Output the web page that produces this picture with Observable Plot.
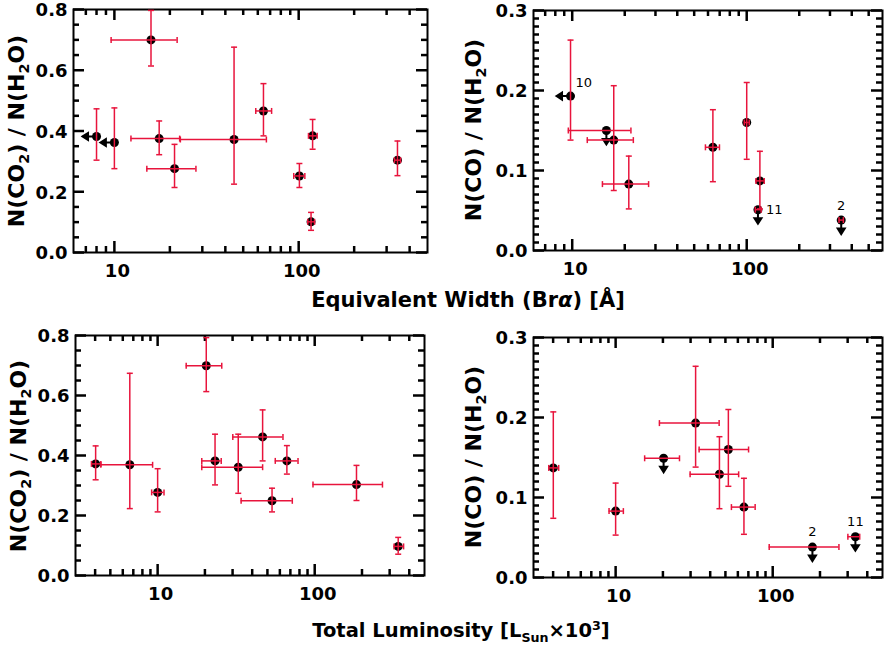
<!DOCTYPE html>
<html><head><meta charset="utf-8">
<script src="https://cdn.jsdelivr.net/npm/d3@7"></script>
<script src="https://cdn.jsdelivr.net/npm/@observablehq/plot@0.6"></script>
<style>
body{margin:0;background:#fff;}
#root{position:relative;width:890px;height:648px;overflow:hidden;font-family:"DejaVu Sans",sans-serif;color:#000;background:#fff;}
.panel{position:absolute;max-width:none !important;}
.ytitle{position:absolute;transform:translate(-50%,-50%) rotate(-90deg);white-space:nowrap;font-weight:bold;font-size:22px;line-height:1;}
.xtitle{position:absolute;transform:translate(-50%,-50%);white-space:nowrap;font-weight:bold;font-size:20px;line-height:1;}
sub,sup{font-size:65%;line-height:0;}
</style></head><body><div id="root"></div>
<script>
// ---------- Data: Equivalent width (Br alpha) vs N(CO2)/N(H2O) ----------
const ewA   = [8, 10, 15.8, 17.5, 21.2, 44.6, 64.4, 100.9, 119, 116.7, 343.6];
const ewALo = [null, null, 9.6, 12.3, 15.0, 22.8, 58.5, 94, 113, 112, 331];
const ewAHi = [null, null, 21.9, 22.6, 27.7, 66.8, 71.3, 108, 126, 122, 357];
const co2A   = [0.382, 0.362, 0.700, 0.375, 0.276, 0.372, 0.466, 0.252, 0.384, 0.101, 0.304];
const co2ALo = [0.304, 0.276, 0.614, 0.322, 0.214, 0.225, 0.384, 0.214, 0.340, 0.073, 0.253];
const co2AHi = [0.473, 0.476, 0.797, 0.433, 0.356, 0.676, 0.556, 0.293, 0.438, 0.132, 0.367];
const limA   = ["left", "left", "", "", "", "", "", "", "", "", ""];
const labA   = ["", "", "", "", "", "", "", "", "", "", ""];

// ---------- Data: Equivalent width (Br alpha) vs N(CO)/N(H2O) ----------
const ewB   = [9.78, 15.7, 17.3, 21.1, 64, 100, 119, 116, 348];
const ewBLo = [null, 9.5, 12.2, 14.9, 58, 96.9, 113, 112, 338];
const ewBHi = [null, 21.7, 22.4, 27.4, 69.8, 103.4, 126, 121, 358];
const coB   = [0.193, 0.150, 0.138, 0.083, 0.129, 0.160, 0.087, 0.051, 0.038];
const coBLo = [0.138, null, 0.075, 0.052, 0.086, 0.114, 0.052, null, null];
const coBHi = [0.263, null, 0.206, 0.118, 0.176, 0.210, 0.124, null, null];
const limB  = ["left", "down", "", "", "", "", "", "down", "down"];
const labB  = ["10", "", "", "", "", "", "", "11", "2"];

// ---------- Data: Total luminosity vs N(CO2)/N(H2O) ----------
const lumC   = [4.03, 6.65, 10, 20.4, 23.2, 32.6, 46.6, 53.5, 66.5, 184.5, 340];
const lumCLo = [3.79, 4.35, 9.16, 15.2, 19.1, 19.1, 30.1, 34.0, 56.1, 97.5, 320];
const lumCHi = [4.35, 9.29, 10.98, 25.6, 25.4, 46.6, 62.8, 72.0, 78.3, 270, 368];
const co2C   = [0.372, 0.369, 0.277, 0.699, 0.382, 0.361, 0.462, 0.249, 0.382, 0.303, 0.097];
const co2CLo = [0.319, 0.223, 0.212, 0.613, 0.302, 0.274, 0.382, 0.212, 0.338, 0.250, 0.071];
const co2CHi = [0.432, 0.674, 0.356, 0.793, 0.471, 0.471, 0.552, 0.291, 0.433, 0.367, 0.127];
const limC   = ["", "", "", "", "", "", "", "", "", "", ""];
const labC   = ["", "", "", "", "", "", "", "", "", "", ""];

// ---------- Data: Total luminosity vs N(CO)/N(H2O) ----------
const lumD   = [4.01, 10, 20.2, 32.3, 52.2, 45.8, 65.6, 179, 336];
const lumDLo = [3.75, 9.08, 15.3, 19.0, 34.0, 29.8, 54.6, 95, 301];
const lumDHi = [4.34, 11.2, 25.5, 45.6, 70.2, 60.7, 77.3, 264, 358];
const coD    = [0.137, 0.083, 0.149, 0.193, 0.160, 0.129, 0.088, 0.038, 0.051];
const coDLo  = [0.074, 0.053, null, 0.138, 0.114, 0.086, 0.054, null, null];
const coDHi  = [0.207, 0.118, null, 0.264, 0.210, 0.176, 0.124, null, null];
const limD   = ["", "", "down", "", "", "", "", "down", "down"];
const labD   = ["", "", "", "", "", "", "", "2", "11"];

// ---------- Axis ticks ----------
const co2Major = [0, 0.2, 0.4, 0.6, 0.8];
const co2Minor = [0.05,0.1,0.15,0.25,0.3,0.35,0.45,0.5,0.55,0.65,0.7,0.75];
const coMajor  = [0, 0.1, 0.2, 0.3];
const coMinor  = [0.01,0.02,0.03,0.04,0.05,0.06,0.07,0.08,0.09,0.11,0.12,0.13,0.14,0.15,0.16,0.17,0.18,0.19,0.21,0.22,0.23,0.24,0.25,0.26,0.27,0.28,0.29];
const xMajor   = [10, 100];
const xMinor   = [3,4,5,6,7,8,9,20,30,40,50,60,70,80,90,200,300,400,500,600];
const xTitleTop = "Equivalent Width (Br<i>α</i>) [Å]";
const xTitleBottom = "Total Luminosity [L<sub>Sun</sub>×10<sup>3</sup>]";
const yTitleCO2 = "N(CO<sub>2</sub>) / N(H<sub>2</sub>O)";
const yTitleCO  = "N(CO) / N(H<sub>2</sub>O)";

// ---------- Drawing ----------
const RED = "#e8143c";
const rOf = size => Math.sqrt(size / Math.PI);
const capH = {draw(ctx, size){const r=rOf(size);ctx.moveTo(-r,0);ctx.lineTo(r,0);}};
const capV = {draw(ctx, size){const r=rOf(size);ctx.moveTo(0,-r);ctx.lineTo(0,r);}};
const arrowLeft = {draw(ctx){ctx.moveTo(0,0);ctx.lineTo(-11,0);ctx.moveTo(-14,0);ctx.lineTo(-8.5,-3.5);ctx.lineTo(-8.5,3.5);ctx.closePath();}};
const arrowDown = {draw(ctx){ctx.moveTo(0,0);ctx.lineTo(0,11);ctx.moveTo(0,14);ctx.lineTo(-3.5,8.5);ctx.lineTo(3.5,8.5);ctx.closePath();}};

const root = document.getElementById("root");

function rowsOf(x, xLo, xHi, y, yLo, yHi, lim, lab) {
  return x.map((v, i) => ({x: v, xLo: xLo[i], xHi: xHi[i], y: y[i], yLo: yLo[i], yHi: yHi[i], lim: lim[i], lab: lab[i]}));
}

function panel(cfg) {
  const {rows, left, top, width, height, mL, mR, mT, mB, xDomain, yDomain, yMajor, yMinor, yFmt, labelMarks} = cfg;
  const W = width - mL - mR, H = height - mT - mB;
  const xMin = xMinor.filter(v => v > xDomain[0] && v < xDomain[1]);
  const withXErr = rows.filter(d => d.xLo != null);
  const withYErr = rows.filter(d => d.yLo != null);
  const [xa, xb] = xDomain, [ya, yb] = yDomain;
  // tick lengths (px) expressed through the scales' extents
  const xf = len => Math.pow(xb / xa, len / W);
  const yf = len => (yb - ya) * len / H;
  const yTicks = (vals, len) => vals.map(v => ({v, l1: xa, l2: xa * xf(len), r1: xb / xf(len), r2: xb}));
  const xTicks = (vals, len) => vals.map(v => ({v, b1: ya, b2: ya + yf(len), t1: yb - yf(len), t2: yb}));
  const tk = {stroke: "#000", strokeWidth: 2.5};
  const yT = [...yTicks(yMajor, 11), ...yTicks(yMinor, 6)];
  const xT = [...xTicks(xMajor, 11), ...xTicks(xMin, 6)];
  const fig = Plot.plot({
    width, height,
    marginLeft: mL, marginRight: mR, marginTop: mT, marginBottom: mB,
    x: {type: "log", domain: xDomain, axis: null},
    y: {domain: yDomain, axis: null},
    style: {background: "transparent", overflow: "visible", fontFamily: "DejaVu Sans, sans-serif"},
    marks: [
      Plot.frame({stroke: "#000", strokeWidth: 2, fill: "none"}),
      // inward ticks on all four sides
      Plot.ruleY(yT, {y: "v", x1: "l1", x2: "l2", ...tk}),
      Plot.ruleY(yT, {y: "v", x1: "r1", x2: "r2", ...tk}),
      Plot.ruleX(xT, {x: "v", y1: "b1", y2: "b2", ...tk}),
      Plot.ruleX(xT, {x: "v", y1: "t1", y2: "t2", ...tk}),
      // tick labels
      Plot.text(yMajor, {y: d => d, frameAnchor: "left", dx: -6, dy: 1, textAnchor: "end", text: yFmt, fontSize: 18, fontWeight: "bold", fill: "black"}),
      Plot.text(xMajor, {x: d => d, frameAnchor: "bottom", dy: 24, dx: 3, text: d => String(d), fontSize: 18, fontWeight: "bold", fill: "black"}),
      // limit arrows
      Plot.dot(rows.filter(d => d.lim === "left"), {x: "x", y: "y", symbol: arrowLeft, fill: "black", stroke: "black", strokeWidth: 2}),
      Plot.dot(rows.filter(d => d.lim === "down"), {x: "x", y: "y", symbol: arrowDown, fill: "black", stroke: "black", strokeWidth: 2}),
      // points
      Plot.dot(rows, {x: "x", y: "y", r: 4.5, fill: "black", stroke: "none"}),
      // error bars
      Plot.ruleY(withXErr, {y: "y", x1: "xLo", x2: "xHi", stroke: RED, strokeWidth: 1.5}),
      Plot.ruleX(withYErr, {x: "x", y1: "yLo", y2: "yHi", stroke: RED, strokeWidth: 1.5}),
      Plot.dot(withXErr, {x: "xLo", y: "y", symbol: capV, r: 3, stroke: RED, strokeWidth: 1.5, fill: "none"}),
      Plot.dot(withXErr, {x: "xHi", y: "y", symbol: capV, r: 3, stroke: RED, strokeWidth: 1.5, fill: "none"}),
      Plot.dot(withYErr, {x: "x", y: "yLo", symbol: capH, r: 3, stroke: RED, strokeWidth: 1.5, fill: "none"}),
      Plot.dot(withYErr, {x: "x", y: "yHi", symbol: capH, r: 3, stroke: RED, strokeWidth: 1.5, fill: "none"}),
      ...(labelMarks ? labelMarks(rows) : [])
    ]
  });
  fig.classList.add("panel");
  fig.style.left = left + "px";
  fig.style.top = top + "px";
  root.appendChild(fig);
}

const fmt1 = d => d.toFixed(1);
const labStyle = {fontSize: 13, fill: "black", fontFamily: "DejaVu Sans, sans-serif"};

panel({rows: rowsOf(ewA, ewALo, ewAHi, co2A, co2ALo, co2AHi, limA, labA),
  left: 0, top: 0, width: 445, height: 290, mL: 73, mR: 18, mT: 9, mB: 38,
  xDomain: [6, 500], yDomain: [0, 0.8], yMajor: co2Major, yMinor: co2Minor, yFmt: fmt1});

panel({rows: rowsOf(ewB, ewBLo, ewBHi, coB, coBLo, coBHi, limB, labB),
  left: 445, top: 0, width: 445, height: 290, mL: 88, mR: 8, mT: 10, mB: 40,
  xDomain: [6, 600], yDomain: [0, 0.3], yMajor: coMajor, yMinor: coMinor, yFmt: fmt1,
  labelMarks: rows => [
    Plot.text(rows.filter(d => d.lab === "10"), {x: "x", y: "y", text: "lab", dx: 5, dy: -13, textAnchor: "start", ...labStyle}),
    Plot.text(rows.filter(d => d.lab === "11"), {x: "x", y: "y", text: "lab", dx: 8, dy: 0, textAnchor: "start", ...labStyle}),
    Plot.text(rows.filter(d => d.lab === "2"), {x: "x", y: "y", text: "lab", dx: 0, dy: -14, textAnchor: "middle", ...labStyle})
  ]});

panel({rows: rowsOf(lumC, lumCLo, lumCHi, co2C, co2CLo, co2CHi, limC, labC),
  left: 0, top: 320, width: 445, height: 290, mL: 75, mR: 21, mT: 15, mB: 35,
  xDomain: [3, 500], yDomain: [0, 0.8], yMajor: co2Major, yMinor: co2Minor, yFmt: fmt1});

panel({rows: rowsOf(lumD, lumDLo, lumDHi, coD, coDLo, coDHi, limD, labD),
  left: 445, top: 320, width: 445, height: 290, mL: 88, mR: 8, mT: 17, mB: 33,
  xDomain: [3, 500], yDomain: [0, 0.3], yMajor: coMajor, yMinor: coMinor, yFmt: fmt1,
  labelMarks: rows => [
    Plot.text(rows.filter(d => d.lab !== ""), {x: "x", y: "y", text: "lab", dx: 0, dy: -15, textAnchor: "middle", ...labStyle})
  ]});

function addTitle(cls, html, x, y, size) {
  const el = document.createElement("div");
  el.className = cls;
  el.innerHTML = html;
  el.style.left = x + "px";
  el.style.top = y + "px";
  if (size) el.style.fontSize = size + "px";
  root.appendChild(el);
}
addTitle("xtitle", xTitleTop, 468, 300, 21);
addTitle("xtitle", xTitleBottom, 461, 631, 19.5);
addTitle("ytitle", yTitleCO2, 17, 131);
addTitle("ytitle", yTitleCO, 474, 130);
addTitle("ytitle", yTitleCO2, 19, 456);
addTitle("ytitle", yTitleCO, 474, 457);
</script>
</body></html>
